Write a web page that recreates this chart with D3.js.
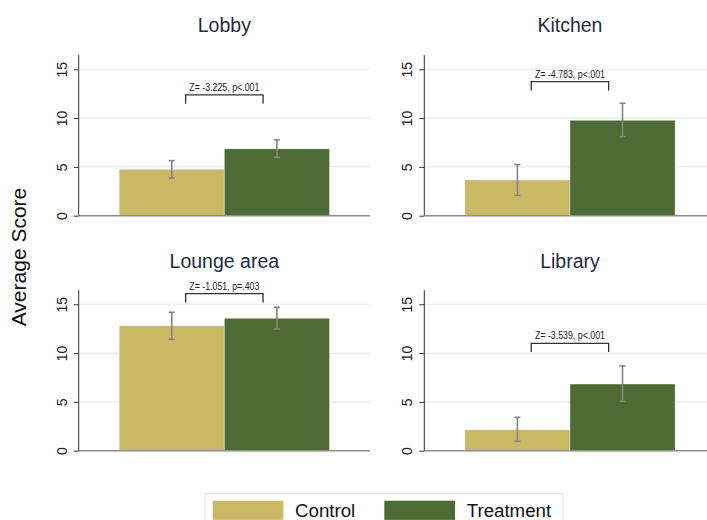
<!DOCTYPE html>
<html>
<head>
<meta charset="utf-8">
<script src="https://cdn.jsdelivr.net/npm/d3@7"></script>
<style>
  html, body { margin: 0; padding: 0; background: #fff; }
  svg { display: block; font-family: "Liberation Sans", Arial, Helvetica, sans-serif; }
</style>
</head>
<body>
<svg id="chart" width="707" height="520"></svg>
<script>
// Average score by location, control vs treatment, with 95% CIs and test results
const locations = ["Lobby", "Kitchen", "Lounge area", "Library"];
const groups = ["Control", "Treatment"];
const controlMean = [4.75, 3.66, 12.8, 2.15];
const controlLow = [3.86, 2.09, 11.41, 0.96];
const controlHigh = [5.64, 5.23, 14.18, 3.42];
const treatmentMean = [6.85, 9.77, 13.56, 6.83];
const treatmentLow = [5.98, 8.1, 12.47, 5.06];
const treatmentHigh = [7.76, 11.52, 14.69, 8.68];
const testLabels = ["Z= -3.225, p<.001", "Z= -4.783, p<.001", "Z= -1.051, p=.403", "Z= -3.539, p<.001"];
const bracketLevel = [12.37, 13.73, 16.09, 11.0];
const yTicks = [0, 5, 10, 15];

const colors = { Control: "#c9b866", Treatment: "#4f6b35" };

const svg = d3.select("#chart");

// panel frames: left edge of y axis, zero line, width, height
const panelLeft = [78.7, 424.3];
const panelBottom = [215.7, 450.7];
const panelW = 291.3, panelH = 160.6;

const y = d3.scaleLinear().domain([0, 16.45]).range([panelH, 0]);
const x = d3.scaleBand().domain(groups).range([0, panelW]).paddingInner(0).paddingOuter(0.385);

locations.forEach((loc, i) => {
  const col = i % 2, row = Math.floor(i / 2);
  const g = svg.append("g")
    .attr("transform", `translate(${panelLeft[col]},${panelBottom[row] - panelH})`);

  const rows = [
    { grp: "Control", mean: controlMean[i], lo: controlLow[i], hi: controlHigh[i] },
    { grp: "Treatment", mean: treatmentMean[i], lo: treatmentLow[i], hi: treatmentHigh[i] }
  ];

  // horizontal grid lines
  g.selectAll("line.grid")
    .data(yTicks.filter(t => t > 0))
    .join("line")
    .attr("class", "grid")
    .attr("x1", 0).attr("x2", panelW)
    .attr("y1", d => y(d)).attr("y2", d => y(d))
    .attr("stroke", "#e4eded").attr("stroke-width", 1.2);

  // bars
  g.selectAll("rect.bar")
    .data(rows)
    .join("rect")
    .attr("class", "bar")
    .attr("x", d => x(d.grp))
    .attr("width", x.bandwidth())
    .attr("y", d => y(d.mean))
    .attr("height", d => y(0) - y(d.mean))
    .attr("fill", d => colors[d.grp])
    .attr("stroke", "#ffffff").attr("stroke-opacity", 0.35).attr("stroke-width", 1);

  // confidence intervals
  const cap = 3;
  const eb = g.selectAll("g.err").data(rows).join("g").attr("class", "err")
    .attr("stroke", "#858585").attr("stroke-width", 1.6);
  eb.append("line")
    .attr("x1", d => x(d.grp) + x.bandwidth() / 2).attr("x2", d => x(d.grp) + x.bandwidth() / 2)
    .attr("y1", d => y(d.lo)).attr("y2", d => y(d.hi));
  eb.append("line")
    .attr("x1", d => x(d.grp) + x.bandwidth() / 2 - cap).attr("x2", d => x(d.grp) + x.bandwidth() / 2 + cap)
    .attr("y1", d => y(d.hi)).attr("y2", d => y(d.hi));
  eb.append("line")
    .attr("x1", d => x(d.grp) + x.bandwidth() / 2 - cap).attr("x2", d => x(d.grp) + x.bandwidth() / 2 + cap)
    .attr("y1", d => y(d.lo)).attr("y2", d => y(d.lo));

  // zero line along the bottom
  g.append("line")
    .attr("x1", 0).attr("x2", panelW)
    .attr("y1", y(0)).attr("y2", y(0))
    .attr("stroke", "#8e8e8e").attr("stroke-width", 1.5);

  // y axis with rotated tick labels
  const axis = g.append("g").call(d3.axisLeft(y).tickValues(yTicks).tickSize(5).tickPadding(7));
  axis.select(".domain").attr("stroke", "#333").attr("stroke-width", 1)
    .attr("d", `M0,${y(0)}V0`);
  axis.selectAll(".tick line").attr("stroke", "#333");
  axis.selectAll(".tick text")
    .attr("font-size", 14).attr("fill", "#222")
    .attr("font-family", "'Liberation Sans', Arial, sans-serif")
    .attr("transform", "rotate(-90)")
    .attr("x", 0).attr("y", -12)
    .attr("dy", 0)
    .attr("text-anchor", "middle");

  // significance bracket
  const mid = panelW / 2;
  const half = x.bandwidth() * 0.368;
  const by = y(bracketLevel[i]);
  const leg = y(0) - y(0.9);
  g.append("path")
    .attr("d", `M${mid - half},${by + leg}V${by}H${mid + half}V${by + leg}`)
    .attr("fill", "none").attr("stroke", "#333").attr("stroke-width", 1.3);
  g.append("text")
    .attr("x", mid).attr("y", by - 4)
    .attr("text-anchor", "middle")
    .attr("font-size", 10).attr("fill", "#222")
    .attr("textLength", 70).attr("lengthAdjust", "spacingAndGlyphs")
    .text(testLabels[i]);

  // panel title
  g.append("text")
    .attr("x", mid).attr("y", (row === 0 ? 32.3 : 268) - (panelBottom[row] - panelH))
    .attr("text-anchor", "middle")
    .attr("font-size", 19.5).attr("fill", "#1e2b45")
    .text(loc);
});

// shared y axis title
svg.append("text")
  .attr("transform", "translate(26,257) rotate(-90)")
  .attr("text-anchor", "middle")
  .attr("font-size", 21).attr("fill", "#111")
  .text("Average Score");

// legend
const legend = svg.append("g");
legend.append("rect")
  .attr("x", 205).attr("y", 493.3).attr("width", 358).attr("height", 40)
  .attr("fill", "#fff").attr("stroke", "#dfe3e3").attr("stroke-width", 1);
const swatchX = [212.7, 384.3];
const labelX = [295, 466.7];
groups.forEach((grp, k) => {
  legend.append("rect")
    .attr("x", swatchX[k]).attr("y", 500.7).attr("width", 70.7).attr("height", 19.2)
    .attr("fill", colors[grp]);
  legend.append("text")
    .attr("x", labelX[k]).attr("y", 517)
    .attr("font-size", 18.7).attr("fill", "#111")
    .text(grp);
});
</script>
</body>
</html>
